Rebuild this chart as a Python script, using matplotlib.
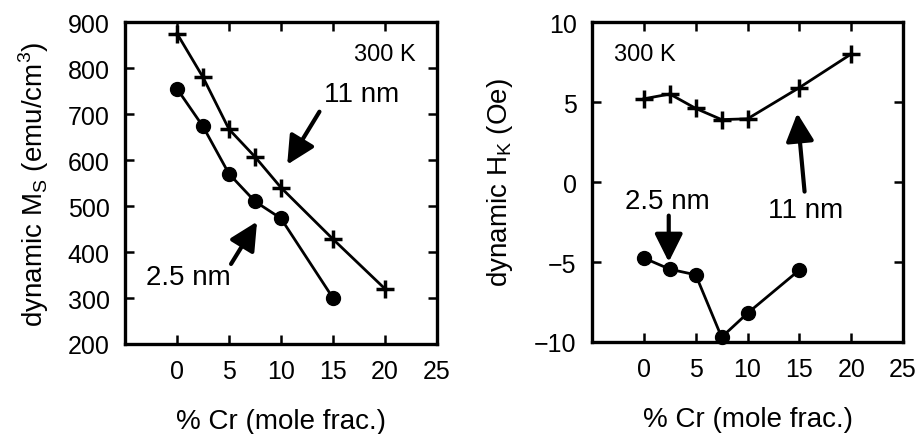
import matplotlib
matplotlib.use("Agg")
import matplotlib.pyplot as plt

plt.rcParams['font.family'] = ['Liberation Sans', 'DejaVu Sans']

# Data
cr_11 = [0, 2.5, 5, 7.5, 10, 15, 20]
ms_11 = [875, 780, 667, 607, 540, 428, 320]
cr_25 = [0, 2.5, 5, 7.5, 10, 15]
ms_25 = [755, 673, 570, 510, 473, 300]

hk_cr_11 = [0, 2.5, 5, 7.5, 10, 15, 20]
hk_11 = [5.2, 5.5, 4.6, 3.9, 3.95, 5.9, 8.0]
hk_cr_25 = [0, 2.5, 5, 7.5, 10, 15]
hk_25 = [-4.75, -5.45, -5.8, -9.7, -8.2, -5.5]

xticks = [0, 5, 10, 15, 20, 25]
ms_ticks = [200, 300, 400, 500, 600, 700, 800, 900]
hk_ticks = [-10, -5, 0, 5, 10]

fig = plt.figure(figsize=(9.17, 4.35), dpi=100)
ax1 = fig.add_axes([0.1363, 0.2069, 0.3402, 0.7402])
ax2 = fig.add_axes([0.6456, 0.2115, 0.3392, 0.7356])

TFS = 18
LFS = 20
line_kw = dict(color='black', lw=2.0)
arrow_kw = dict(arrowstyle='-|>,head_width=0.5,head_length=1.0', lw=3.0,
                color='black', mutation_scale=17, shrinkA=0, shrinkB=0)

for ax in (ax1, ax2):
    ax.set_xlim(-5, 25)
    ax.set_xticks(xticks)
    for s in ax.spines.values():
        s.set_linewidth(2.4)
    ax.tick_params(direction='in', length=6.5, width=1.8, top=True, right=True,
                   labelsize=TFS)
    ax.tick_params(axis='x', pad=11)
    ax.tick_params(axis='y', pad=11)
    ax.set_xlabel('% Cr (mole frac.)', fontsize=LFS, labelpad=18)

# Left panel
ax1.plot(cr_11, ms_11, marker='+', ms=12.5, mew=2.5, **line_kw)
ax1.plot(cr_25, ms_25, marker='o', ms=10, **line_kw)
ax1.set_ylim(200, 900)
ax1.set_yticks(ms_ticks)
ax1.set_ylabel(r'dynamic M$_\mathregular{S}$ (emu/cm$^\mathregular{3}$)', fontsize=LFS, labelpad=12)
ax1.text(20.0, 830, '300 K', fontsize=17, ha='center', va='center')
ax1.text(17.8, 743, '11 nm', fontsize=LFS, ha='center', va='center')
ax1.annotate('', xy=(10.6, 590), xytext=(13.7, 705), arrowprops=arrow_kw)
ax1.text(1.1, 345, '2.5 nm', fontsize=LFS, ha='center', va='center')
ax1.annotate('', xy=(7.7, 466), xytext=(5.2, 374), arrowprops=arrow_kw)

# Right panel
ax2.plot(hk_cr_11, hk_11, marker='+', ms=12.5, mew=2.5, **line_kw)
ax2.plot(hk_cr_25, hk_25, marker='o', ms=10, clip_on=False, **line_kw)
ax2.set_ylim(-10, 10)
ax2.set_yticks(hk_ticks)
ax2.set_yticklabels(['\u221210', '\u22125', '0', '5', '10'])
ax2.set_ylabel(r'dynamic H$_\mathregular{K}$ (Oe)', fontsize=LFS, labelpad=14)
ax2.text(0.1, 8.0, '300 K', fontsize=17, ha='center', va='center')
ax2.text(2.3, -1.2, '2.5 nm', fontsize=LFS, ha='center', va='center')
ax2.annotate('', xy=(2.4, -5.0), xytext=(2.4, -2.1), arrowprops=arrow_kw)
ax2.text(15.6, -1.75, '11 nm', fontsize=LFS, ha='center', va='center')
ax2.annotate('', xy=(14.8, 4.3), xytext=(15.5, -0.6), arrowprops=arrow_kw)

fig.savefig('out.png', dpi=100)
